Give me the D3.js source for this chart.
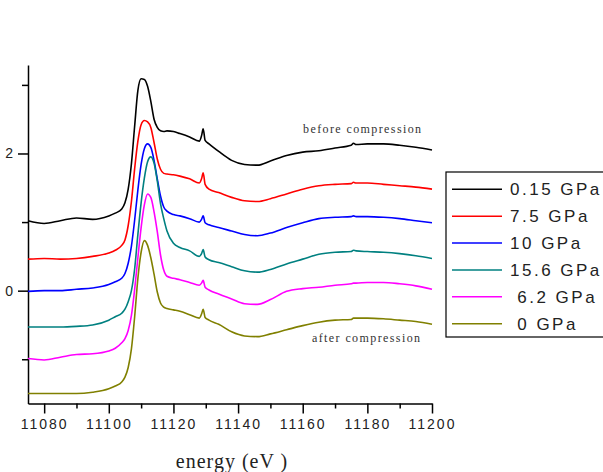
<!DOCTYPE html>
<html>
<head>
<meta charset="utf-8">
<script src="https://cdn.jsdelivr.net/npm/d3@7"></script>
<style>
  html, body { margin: 0; padding: 0; background: #fff; }
  svg { display: block; }
  text { white-space: pre; }
</style>
</head>
<body>
<svg id="chart" width="603" height="472"></svg>
<script>
// ---------------- DATA ----------------
const energy = [11075, 11080, 11085, 11090, 11095, 11100, 11102, 11104, 11105, 11106, 11107, 11108, 11109, 11110, 11111, 11112, 11113, 11114, 11115, 11116, 11117, 11118, 11120, 11122, 11125, 11128, 11128.7, 11129.2, 11129.8, 11131, 11134, 11138, 11142, 11146, 11150, 11155, 11160, 11165, 11170, 11175, 11175.7, 11176.5, 11180, 11185, 11190, 11195, 11200];

const gpa015 = [1.02, 0.98, 1.02, 1.06, 1.04, 1.09, 1.13, 1.19, 1.28, 1.48, 1.85, 2.40, 2.92, 3.09, 3.08, 2.98, 2.76, 2.50, 2.38, 2.33, 2.32, 2.33, 2.32, 2.29, 2.24, 2.18, 2.26, 2.36, 2.19, 2.14, 2.03, 1.90, 1.84, 1.83, 1.89, 1.97, 2.02, 2.04, 2.08, 2.12, 2.15, 2.13, 2.14, 2.14, 2.12, 2.09, 2.05];
const gpa75  = [0.46, 0.47, 0.46, 0.47, 0.50, 0.55, 0.59, 0.66, 0.74, 0.95, 1.30, 1.78, 2.18, 2.42, 2.48, 2.46, 2.38, 2.16, 1.92, 1.77, 1.71, 1.70, 1.69, 1.67, 1.63, 1.57, 1.63, 1.72, 1.55, 1.48, 1.43, 1.36, 1.31, 1.30, 1.34, 1.41, 1.48, 1.53, 1.55, 1.56, 1.58, 1.57, 1.57, 1.55, 1.53, 1.51, 1.48];
const gpa10  = [-0.01, 0.00, 0.00, 0.02, 0.04, 0.09, 0.13, 0.18, 0.25, 0.40, 0.65, 1.03, 1.47, 1.84, 2.07, 2.14, 2.09, 1.90, 1.63, 1.38, 1.22, 1.16, 1.11, 1.09, 1.05, 1.00, 1.04, 1.09, 0.99, 0.96, 0.92, 0.87, 0.82, 0.80, 0.84, 0.92, 0.99, 1.05, 1.07, 1.08, 1.09, 1.08, 1.08, 1.07, 1.05, 1.02, 0.99];
const gpa156 = [-0.53, -0.53, -0.53, -0.52, -0.50, -0.43, -0.38, -0.33, -0.27, -0.16, 0.00, 0.32, 0.82, 1.28, 1.64, 1.88, 1.95, 1.86, 1.60, 1.27, 1.05, 0.87, 0.69, 0.63, 0.58, 0.50, 0.54, 0.60, 0.49, 0.45, 0.41, 0.35, 0.29, 0.27, 0.31, 0.39, 0.46, 0.53, 0.56, 0.57, 0.59, 0.58, 0.57, 0.56, 0.54, 0.51, 0.47];
const gpa62  = [-0.99, -1.01, -0.97, -0.93, -0.92, -0.88, -0.84, -0.76, -0.70, -0.58, -0.36, 0.02, 0.48, 0.92, 1.25, 1.41, 1.36, 1.15, 0.86, 0.52, 0.30, 0.21, 0.18, 0.16, 0.12, 0.08, 0.11, 0.15, 0.05, 0.01, -0.05, -0.12, -0.19, -0.20, -0.13, -0.01, 0.03, 0.05, 0.08, 0.10, 0.11, 0.11, 0.12, 0.12, 0.10, 0.07, 0.02];
const gpa0   = [-1.50, -1.50, -1.50, -1.50, -1.48, -1.43, -1.39, -1.33, -1.26, -1.12, -0.85, -0.38, 0.18, 0.56, 0.73, 0.66, 0.48, 0.24, -0.02, -0.18, -0.24, -0.26, -0.28, -0.30, -0.35, -0.40, -0.34, -0.27, -0.39, -0.43, -0.49, -0.60, -0.66, -0.67, -0.63, -0.57, -0.51, -0.46, -0.43, -0.42, -0.40, -0.40, -0.40, -0.41, -0.43, -0.45, -0.49];

const seriesNames = ["0.15 GPa", "7.5 GPa", "10 GPa", "15.6 GPa", " 6.2 GPa", " 0 GPa"];
const seriesValues = [gpa015, gpa75, gpa10, gpa156, gpa62, gpa0];
const seriesColors = ["#000000", "#ff0000", "#0000ff", "#008080", "#ff00ff", "#808000"];

const xMajorTicks = [11080, 11100, 11120, 11140, 11160, 11180, 11200];
const xMinorTicks = [11090, 11110, 11130, 11150, 11170, 11190];
const yMajorTicks = [0, 2];
const yMinorTicks = [-1, 1, 3];

const xTitle = "energy (eV )";
const noteBefore = "before compression";
const noteAfter = "after compression";

// ---------------- CHART ----------------
const svg = d3.select("#chart");
const x = d3.scaleLinear().domain([11075, 11200]).range([28, 432]);
const y = d3.scaleLinear().domain([-1.645, 3.29]).range([403.5, 65]);

const axisColor = "#000";
const labelFont = "Arial, 'Liberation Sans', sans-serif";

// X axis
const gxMinor = svg.append("g").attr("transform", `translate(0,${y.range()[0]})`)
  .call(d3.axisBottom(x).tickValues(xMinorTicks).tickSize(5).tickFormat(""));
const gx = svg.append("g").attr("transform", `translate(0,${y.range()[0]})`)
  .call(d3.axisBottom(x).tickValues(xMajorTicks).tickSize(10).tickSizeOuter(0).tickPadding(6).tickFormat(d3.format("d")));
gxMinor.select(".domain").remove();

// Y axis
const gyMinor = svg.append("g").attr("transform", `translate(${x.range()[0]},0)`)
  .call(d3.axisLeft(y).tickValues(yMinorTicks).tickSize(6).tickFormat(""));
const gy = svg.append("g").attr("transform", `translate(${x.range()[0]},0)`)
  .call(d3.axisLeft(y).tickValues(yMajorTicks).tickSize(10).tickSizeOuter(0).tickPadding(5).tickFormat(d3.format("d")));
gyMinor.select(".domain").remove();

svg.selectAll(".domain, .tick line").attr("stroke", axisColor).attr("stroke-width", 1.5);
gx.selectAll(".tick text").attr("font-family", labelFont).attr("font-size", 14)
  .attr("fill", "#222").style("letter-spacing", "2px");
gy.selectAll(".tick text").attr("font-family", labelFont).attr("font-size", 14).attr("fill", "#222");

// Lines
const line = d3.line()
  .x((d, i) => x(energy[i]))
  .y(d => y(d))
  .curve(d3.curveMonotoneX);

seriesValues.forEach((vals, k) => {
  svg.append("path")
    .attr("d", line(vals))
    .attr("fill", "none")
    .attr("stroke", seriesColors[k])
    .attr("stroke-width", 1.6)
    .attr("stroke-linejoin", "round");
});

// Axis title
svg.append("text")
  .attr("x", 232).attr("y", 468)
  .attr("text-anchor", "middle")
  .attr("font-family", "'Liberation Serif', 'Times New Roman', serif")
  .attr("font-size", 20)
  .attr("fill", "#222")
  .style("letter-spacing", "1px")
  .text(xTitle);

// Annotations
svg.append("text")
  .attr("x", 303).attr("y", 133)
  .attr("font-family", "'Liberation Serif', 'Times New Roman', serif")
  .attr("font-size", 12).attr("fill", "#333")
  .style("letter-spacing", "1.4px")
  .text(noteBefore);
svg.append("text")
  .attr("x", 312).attr("y", 342)
  .attr("font-family", "'Liberation Serif', 'Times New Roman', serif")
  .attr("font-size", 12).attr("fill", "#333")
  .style("letter-spacing", "1.4px")
  .text(noteAfter);

// Legend
const legend = svg.append("g");
legend.append("rect")
  .attr("x", 446).attr("y", 172).attr("width", 170).attr("height", 165)
  .attr("fill", "#fff").attr("stroke", "#000").attr("stroke-width", 1.2);
const rowY = d3.scalePoint().domain(d3.range(seriesNames.length)).range([189.3, 323.7]);
seriesNames.forEach((name, k) => {
  const yy = rowY(k);
  legend.append("line")
    .attr("x1", 452).attr("x2", 502).attr("y1", yy).attr("y2", yy)
    .attr("stroke", seriesColors[k]).attr("stroke-width", 1.6);
  legend.append("text")
    .attr("x", 510).attr("y", yy + 6)
    .attr("font-family", labelFont).attr("font-size", 17)
    .attr("fill", "#222")
    .style("letter-spacing", "2.5px")
    .text(name);
});
</script>
</body>
</html>
